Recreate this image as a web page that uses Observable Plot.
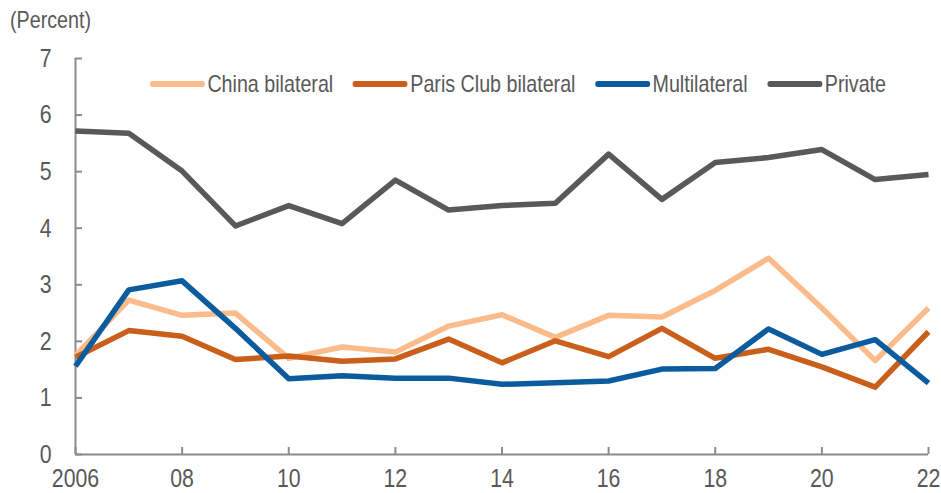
<!DOCTYPE html>
<html>
<head>
<meta charset="utf-8">
<script src="https://cdn.jsdelivr.net/npm/d3@7"></script>
<script src="https://cdn.jsdelivr.net/npm/@observablehq/plot@0.6"></script>
<style>
  html, body { margin: 0; padding: 0; background: #fff; }
  #wrap { position: relative; width: 941px; height: 493px; overflow: hidden; font-family: "Liberation Sans", Arial, sans-serif; }
  #title { position: absolute; left: 10px; top: 6px; font-size: 24px; color: #595959; white-space: nowrap; transform: scaleX(0.82); transform-origin: left center; }
  #legend { position: absolute; left: 150px; top: 70px; display: flex; align-items: center; font-size: 24px; line-height: 28px; color: #595959; white-space: nowrap; transform: scaleX(0.82); transform-origin: left center; }
  .item { display: flex; align-items: center; margin-right: 24px; }
  .sw { width: 67px; height: 5.5px; border-radius: 3px; margin-right: 3px; flex: none; }
</style>
</head>
<body>
<div id="wrap"><div id="chart"></div><div id="title">(Percent)</div><div id="legend"></div></div>
<script>
const years = [2006, 2007, 2008, 2009, 2010, 2011, 2012, 2013, 2014, 2015, 2016, 2017, 2018, 2019, 2020, 2021, 2022];
const china = [1.75, 2.73, 2.46, 2.50, 1.70, 1.90, 1.81, 2.27, 2.47, 2.07, 2.46, 2.43, 2.90, 3.47, 2.59, 1.66, 2.59];
const paris = [1.72, 2.19, 2.09, 1.68, 1.74, 1.65, 1.69, 2.04, 1.62, 2.01, 1.73, 2.23, 1.70, 1.86, 1.55, 1.19, 2.17];
const multi = [1.56, 2.91, 3.07, 2.23, 1.34, 1.39, 1.35, 1.35, 1.24, 1.27, 1.30, 1.51, 1.52, 2.22, 1.77, 2.03, 1.26];
const priv  = [5.72, 5.68, 5.01, 4.04, 4.40, 4.08, 4.85, 4.32, 4.40, 4.44, 5.31, 4.51, 5.16, 5.25, 5.39, 4.86, 4.95];
const seriesNames = ["China bilateral", "Paris Club bilateral", "Multilateral", "Private"];
const seriesColors = ["#FBBB8A", "#C95F1A", "#0B5C9E", "#595959"];
const xTicks = [2006, 2008, 2010, 2012, 2014, 2016, 2018, 2020, 2022];
const xTickLabels = ["2006", "08", "10", "12", "14", "16", "18", "20", "22"];
const yTicks = [0, 1, 2, 3, 4, 5, 6, 7];

const allValues = [china, paris, multi, priv];
const rows = [];
allValues.forEach((vals, i) => vals.forEach((v, j) => rows.push({series: seriesNames[i], year: years[j], value: v})));

const W = 941, H = 493, mL = 75, mR = 13, mT = 58, mB = 39;
const FS = 26;
const axisColor = "#8c8c8c";
const lineOf = name => Plot.line(rows.filter(d => d.series === name), {
  x: "year", y: "value", stroke: seriesColors[seriesNames.indexOf(name)],
  strokeWidth: 5.5, strokeLinejoin: "round", strokeLinecap: "butt"
});

const chart = Plot.plot({
  width: W, height: H,
  marginLeft: mL, marginRight: mR, marginTop: mT, marginBottom: mB,
  style: {fontFamily: "'Liberation Sans', Arial, sans-serif", fontSize: FS + "px", color: "#595959", background: "#fff", overflow: "visible"},
  x: {domain: [2006, 2022]},
  y: {domain: [0, 7]},
  marks: [
    Plot.axisY(yTicks, {tickSize: 0, tickPadding: 24, tickFormat: d3.format("d"), fill: "#595959", fontSize: FS, label: null}),
    Plot.axisX(xTicks, {tickSize: 0, tickPadding: 14, tickFormat: (d, i) => xTickLabels[i], fill: "#595959", fontSize: FS, label: null}),
    Plot.ruleY(yTicks, {stroke: axisColor, strokeWidth: 2, insetRight: W - mL - mR - 7}),
    Plot.ruleX(xTicks, {stroke: axisColor, strokeWidth: 2, insetTop: H - mT - mB - 7}),
    Plot.ruleX([2006], {stroke: axisColor, strokeWidth: 2}),
    Plot.ruleY([0], {stroke: axisColor, strokeWidth: 2}),
    lineOf("Private"),
    lineOf("China bilateral"),
    lineOf("Paris Club bilateral"),
    lineOf("Multilateral")
  ]
});
document.getElementById("chart").appendChild(chart);

// condense the tick labels horizontally (narrow-font look), keeping each label's anchor point fixed
const toPx = v => { if (!v) return 0; const n = parseFloat(v); return /em$/.test(v) ? n * FS : n; };
chart.querySelectorAll('g[aria-label$="tick label"] text').forEach(t => {
  const x = toPx(t.getAttribute("x")) + toPx(t.getAttribute("dx"));
  const y = toPx(t.getAttribute("y")) + toPx(t.getAttribute("dy"));
  const tr = t.getAttribute("transform") || "";
  ["x", "y", "dx", "dy"].forEach(a => t.removeAttribute(a));
  t.setAttribute("transform", `${tr} translate(${x},${y}) scale(0.82,1)`);
});

const legend = document.getElementById("legend");
seriesNames.forEach((n, i) => {
  const it = document.createElement("div");
  it.className = "item";
  const sw = document.createElement("div");
  sw.className = "sw";
  sw.style.background = seriesColors[i];
  const t = document.createElement("span");
  t.textContent = n;
  it.appendChild(sw); it.appendChild(t);
  legend.appendChild(it);
});
</script>
</body>
</html>
